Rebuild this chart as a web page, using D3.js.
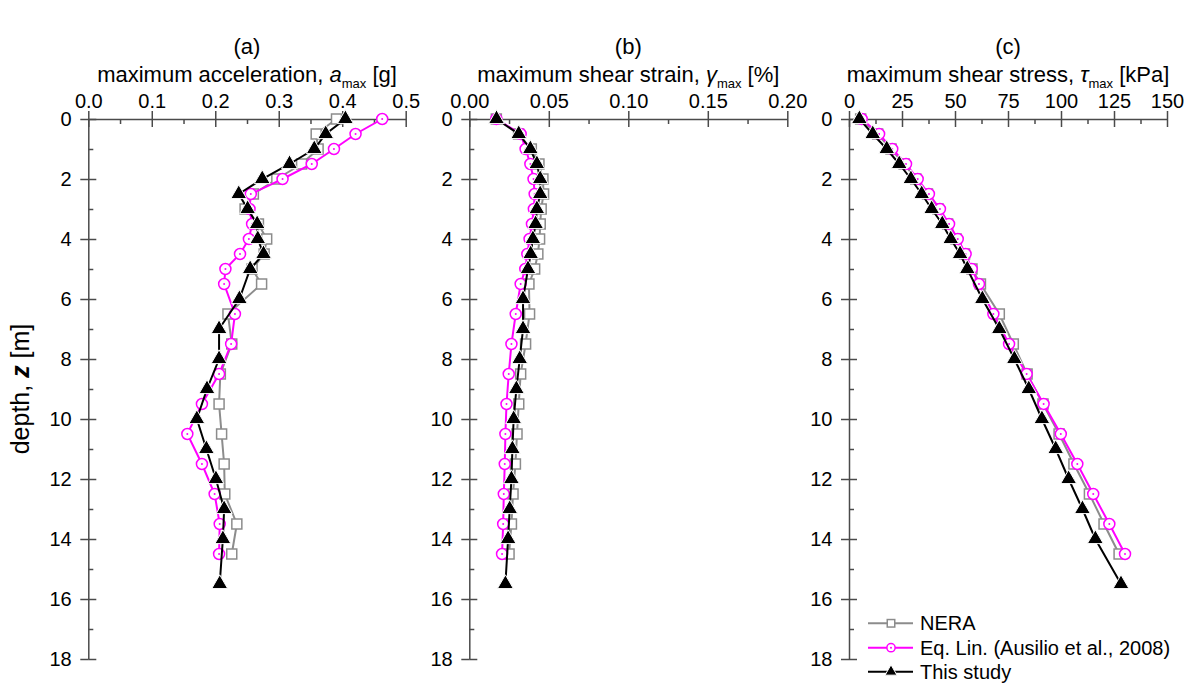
<!DOCTYPE html>
<html><head><meta charset="utf-8">
<script src="https://cdn.jsdelivr.net/npm/d3@7"></script>
<style>
body{margin:0;background:#fff;}
svg{display:block;font-family:"Liberation Sans",Arial,sans-serif;}
</style></head>
<body><svg id="chart" width="1192" height="683"></svg>
<script>
// ---- data ----
const depthRef = [0,0.5,1,1.5,2,2.5,3,3.5,4,4.5,5,5.5,6.5,7.5,8.5,9.5,10.5,11.5,12.5,13.5,14.5];
const depthThis = [0,0.5,1,1.5,2,2.5,3,3.5,4,4.5,5,6,7,8,9,10,11,12,13,14,15.5];

const accNERA = [0.391,0.359,0.362,0.336,0.297,0.260,0.247,0.268,0.281,0.277,0.258,0.273,0.220,0.226,0.208,0.206,0.210,0.214,0.215,0.234,0.226];
const accEqLin = [0.463,0.421,0.387,0.352,0.306,0.256,0.254,0.258,0.253,0.239,0.216,0.214,0.231,0.225,0.206,0.179,0.156,0.179,0.199,0.207,0.206];
const accThis = [0.405,0.374,0.356,0.317,0.274,0.237,0.251,0.266,0.267,0.276,0.255,0.238,0.206,0.206,0.187,0.171,0.186,0.201,0.214,0.212,0.207];

const strainNERA = [0.017,0.031,0.039,0.0438,0.0463,0.0467,0.0452,0.0446,0.0442,0.0431,0.0411,0.0375,0.0379,0.0354,0.0323,0.0311,0.0300,0.0290,0.0275,0.0265,0.0250];
const strainEqLin = [0.017,0.0323,0.0354,0.0384,0.0404,0.0411,0.0406,0.0394,0.0379,0.0365,0.0352,0.0323,0.0292,0.0265,0.0248,0.0234,0.0227,0.0223,0.0217,0.0213,0.0206];
const strainThis = [0.0171,0.0311,0.0384,0.0425,0.0446,0.0446,0.0425,0.0417,0.0400,0.0386,0.0369,0.0338,0.0338,0.0317,0.0296,0.0279,0.0271,0.0265,0.0254,0.0244,0.0227];

const stressNERA = [5.5,13.5,19.8,26,31.5,37,42,46.5,50.5,54.5,58,62,70.9,77.5,84,91.5,99.1,106.1,113.4,120.3,127.4];
const stressEqLin = [6.0,14.2,20.4,26.9,32.4,37.7,42.9,47.2,51.3,55.0,57.9,61.3,68.1,75.5,83.8,91.8,99.9,107.7,115.2,122.8,130.2];
const stressThis = [4.9,11.2,17.8,23.7,29.2,34.3,39.0,44.0,48.0,52.4,55.8,62.9,70.9,78.0,84.8,91.0,97.5,103.6,110.1,116.2,128.3];

const ticksA = [0,0.1,0.2,0.3,0.4,0.5];
const ticksB = [0,0.05,0.10,0.15,0.20];
const ticksC = [0,25,50,75,100,125,150];
const ticksDepth = [0,2,4,6,8,10,12,14,16,18];
const seriesNames = ["NERA","Eq. Lin. (Ausilio et al., 2008)","This study"];
const panelLetters = ["(a)","(b)","(c)"];

// ---- layout ----
const svg = d3.select("#chart");
const yTop = 119, yBot = 659;
const y = d3.scaleLinear().domain([0,18]).range([yTop,yBot]);
const axisColor = "#4a4a4a";
const FONT = "\"Liberation Sans\",Arial,sans-serif";

const panels = [
  {x0:88.3, x1:405.7, domain:[0,0.5], ticks:ticksA, minor:0.05, fmt:d3.format(".1f"),
   data:[accNERA,accEqLin,accThis],
   title:[{t:"maximum acceleration, "},{t:"a",it:true},{t:"max",sub:true},{t:" [g]",up:true}]},
  {x0:469.3, x1:787.3, domain:[0,0.2], ticks:ticksB, minor:0.025, fmt:d3.format(".2f"),
   data:[strainNERA,strainEqLin,strainThis],
   title:[{t:"maximum shear strain, "},{t:"\u03B3",it:true},{t:"max",sub:true},{t:" [%]",up:true}]},
  {x0:849, x1:1167, domain:[0,150], ticks:ticksC, minor:12.5, fmt:d3.format("d"),
   data:[stressNERA,stressEqLin,stressThis],
   title:[{t:"maximum shear stress, "},{t:"\u03C4",it:true},{t:"max",sub:true},{t:" [kPa]",up:true}]}
];

const styles = [
  {color:"#8c8c8c", marker:"square"},
  {color:"#ff00ff", marker:"circle"},
  {color:"#000000", marker:"triangle"}
];

function drawMarker(g, type, color, cx, cy, scale) {
  scale = scale || 1;
  if (type === "square") {
    const s = 10*scale;
    g.append("rect").attr("x",cx-s/2).attr("y",cy-s/2).attr("width",s).attr("height",s)
      .attr("fill","#fff").attr("stroke",color).attr("stroke-width",1.5);
  } else if (type === "circle") {
    const r = 5.5*scale;
    g.append("circle").attr("cx",cx).attr("cy",cy).attr("r",r)
      .attr("fill","#fff").attr("stroke",color).attr("stroke-width",1.5);
    g.append("circle").attr("cx",cx).attr("cy",cy).attr("r",1).attr("fill",color);
  } else {
    g.append("path").attr("d",d3.symbol(d3.symbolTriangle, 110*scale*scale)())
      .attr("transform",`translate(${cx},${cy})`)
      .attr("fill",color).attr("stroke","#fff").attr("stroke-width",1);
  }
}

panels.forEach((p,i) => {
  const x = d3.scaleLinear().domain(p.domain).range([p.x0,p.x1]);
  const g = svg.append("g");

  // titles
  g.append("text").attr("x",(p.x0+p.x1)/2).attr("y",54).attr("text-anchor","middle")
    .attr("font-size",22).attr("fill","#000").text(panelLetters[i]);
  const tt = g.append("text").attr("x",(p.x0+p.x1)/2).attr("y",82).attr("text-anchor","middle")
    .attr("font-size",22).attr("fill","#000");
  p.title.forEach(part => {
    const ts = tt.append("tspan").text(part.t);
    if (part.it) ts.attr("font-style","italic");
    if (part.sub) ts.attr("font-size",13).attr("dy",6);
    if (part.up) ts.attr("dy",-6);
  });

  // top axis
  const ax = g.append("g").attr("transform",`translate(0,${yTop})`)
    .call(d3.axisTop(x).tickValues(p.ticks).tickFormat(p.fmt).tickSize(8).tickSizeOuter(0).tickPadding(3.5));
  ax.select(".domain").attr("stroke",axisColor).attr("stroke-width",1.5);
  ax.selectAll(".tick line").attr("stroke",axisColor).attr("stroke-width",1.5);
  ax.selectAll(".tick text").attr("font-size",20).attr("font-family",FONT).attr("fill","#000");
  // inward major ticks and minor ticks
  const ax2 = g.append("g").attr("transform",`translate(0,${yTop})`)
    .call(d3.axisTop(x).tickValues(p.ticks).tickSize(-8).tickFormat(""));
  ax2.select(".domain").remove();
  ax2.selectAll(".tick line").attr("stroke",axisColor).attr("stroke-width",1.5);
  const minorVals = d3.range(p.domain[0]+p.minor, p.domain[1], p.minor*2);
  const ax3 = g.append("g").attr("transform",`translate(0,${yTop})`)
    .call(d3.axisTop(x).tickValues(minorVals).tickSize(-5).tickFormat(""));
  ax3.select(".domain").remove();
  ax3.selectAll(".tick line").attr("stroke",axisColor).attr("stroke-width",1.5);

  // left axis
  const ay = g.append("g").attr("transform",`translate(${p.x0},0)`)
    .call(d3.axisLeft(y).tickValues(ticksDepth).tickFormat(d3.format("d")).tickSize(8).tickSizeOuter(0).tickPadding(8.6));
  ay.select(".domain").attr("stroke",axisColor).attr("stroke-width",1.5);
  ay.selectAll(".tick line").attr("stroke",axisColor).attr("stroke-width",1.5);
  ay.selectAll(".tick text").attr("font-size",20).attr("font-family",FONT).attr("fill","#000");
  const ay2 = g.append("g").attr("transform",`translate(${p.x0},0)`)
    .call(d3.axisLeft(y).tickValues(ticksDepth).tickSize(-8).tickFormat(""));
  ay2.select(".domain").remove();
  ay2.selectAll(".tick line").attr("stroke",axisColor).attr("stroke-width",1.5);
  const ay3 = g.append("g").attr("transform",`translate(${p.x0},0)`)
    .call(d3.axisLeft(y).tickValues(d3.range(1,18,2)).tickSize(-5).tickFormat(""));
  ay3.select(".domain").remove();
  ay3.selectAll(".tick line").attr("stroke",axisColor).attr("stroke-width",1.5);

  // series
  p.data.forEach((vals,si) => {
    const depths = si === 2 ? depthThis : depthRef;
    const pts = vals.map((v,k) => [v, depths[k]]);
    const st = styles[si];
    g.append("path").datum(pts)
      .attr("d", d3.line().x(d=>x(d[0])).y(d=>y(d[1])))
      .attr("fill","none").attr("stroke",st.color).attr("stroke-width",2);
    const mg = g.append("g");
    pts.forEach(d => drawMarker(mg, st.marker, st.color, x(d[0]), y(d[1]), 1));
  });
});

// y label
svg.append("text").attr("transform","translate(29,389) rotate(-90)").attr("text-anchor","middle")
  .attr("font-size",25).attr("fill","#000")
  .call(t => {
    t.append("tspan").text("depth, ");
    t.append("tspan").text("z").attr("font-style","italic").attr("font-weight","bold");
    t.append("tspan").text(" [m]");
  });

// legend
const legY = [623.3, 647.7, 671.7];
seriesNames.forEach((name,i) => {
  const lg = svg.append("g");
  const st = styles[i];
  lg.append("line").attr("x1",868).attr("x2",913).attr("y1",legY[i]).attr("y2",legY[i])
    .attr("stroke",st.color).attr("stroke-width",2);
  drawMarker(lg, st.marker, st.color, 891, legY[i], 0.75);
  lg.append("text").attr("x",920).attr("y",legY[i]).attr("dy","0.35em")
    .attr("font-size",20).attr("fill","#000").text(name);
});
</script>
</body></html>
